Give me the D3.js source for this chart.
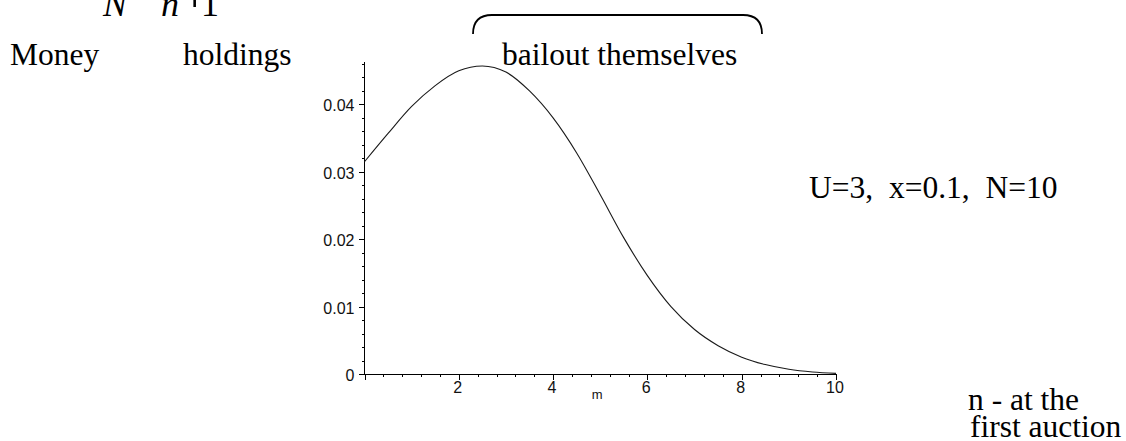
<!DOCTYPE html>
<html>
<head>
<meta charset="utf-8">
<script src="https://cdn.jsdelivr.net/npm/d3@7"></script>
<style>
  html, body { margin: 0; padding: 0; background: #fff; }
  svg { display: block; }
  .serif { font-family: "Liberation Serif", "Times New Roman", serif; fill: #000; white-space: pre; }
  .tick text { font-family: "Liberation Sans", Arial, sans-serif; }
</style>
</head>
<body>
<svg id="chart" width="1126" height="441"></svg>
<script>
// Money holdings m versus the value plotted for U=3, x=0.1, N=10
const mValues = [0, 0.5, 1, 1.5, 2, 2.5, 3, 3.5, 4, 4.5, 5, 5.5, 6, 6.5, 7, 7.5, 8, 8.5, 9, 9.5, 10];
const yValues = [0.0315, 0.0357, 0.0397, 0.0428, 0.0450, 0.0457, 0.0448, 0.0420, 0.0380, 0.0328,
                 0.0266, 0.0202, 0.0146, 0.0100, 0.0066, 0.0042, 0.0025, 0.0014, 0.0007, 0.0003, 0.0001];

const xMajorTicks = [0, 2, 4, 6, 8, 10];
const xTickLabels = ["", "2", "4", "6", "8", "10"];
const xMinorTicks = [0.4, 0.8, 1.2, 1.6, 2.4, 2.8, 3.2, 3.6, 4.4, 4.8, 5.2, 5.6, 6.4, 6.8, 7.2, 7.6, 8.4, 8.8, 9.2, 9.6];
const yMajorTicks = [0, 0.01, 0.02, 0.03, 0.04];
const yTickLabels = ["0", "0.01", "0.02", "0.03", "0.04"];
const yMinorTicks = [0.002, 0.004, 0.006, 0.008, 0.012, 0.014, 0.016, 0.018, 0.022, 0.024, 0.026, 0.028,
                     0.032, 0.034, 0.036, 0.038, 0.042, 0.044, 0.046];

const svg = d3.select("#chart");

const x = d3.scaleLinear().domain([0, 10]).range([364.5, 836]);
const y = d3.scaleLinear().domain([0, 0.0463]).range([374, 62]);

// x axis: minor ticks first, then major ticks with labels
const gx = svg.append("g").attr("transform", `translate(0,${y(0)})`);
gx.call(d3.axisBottom(x).tickValues(xMinorTicks).tickSize(3).tickSizeOuter(0).tickFormat(""));
const gxMaj = svg.append("g").attr("transform", `translate(0,${y(0)})`)
  .call(d3.axisBottom(x).tickValues(xMajorTicks).tickSize(6).tickSizeOuter(0)
    .tickFormat((d, i) => xTickLabels[i]).tickPadding(2));
gxMaj.select(".domain").remove();
gxMaj.selectAll(".tick text").attr("dx", "-0.1em");

// y axis
const gy = svg.append("g").attr("transform", `translate(${x(0)},0)`);
gy.call(d3.axisLeft(y).tickValues(yMinorTicks).tickSize(3).tickSizeOuter(0).tickFormat(""));
gy.select(".domain").attr("d", `M0,${y(0)}V${y.range()[1]}`);
const gyMaj = svg.append("g").attr("transform", `translate(${x(0)},0)`)
  .call(d3.axisLeft(y).tickValues(yMajorTicks).tickSize(6).tickSizeOuter(0)
    .tickFormat((d, i) => yTickLabels[i]).tickPadding(4));
gyMaj.select(".domain").remove();

svg.selectAll(".domain, .tick line").attr("stroke", "#000").attr("stroke-width", 1)
  .attr("shape-rendering", "crispEdges");
svg.selectAll(".tick text").attr("font-size", 16).attr("fill", "#111");
gyMaj.selectAll(".tick text").attr("dy", "0.4em");

// axis variable label
svg.append("text")
  .attr("x", x(5) - 3).attr("y", 399)
  .attr("text-anchor", "middle")
  .attr("font-family", "Liberation Sans, Arial, sans-serif")
  .attr("font-size", 13).attr("fill", "#111")
  .text("m");

// curve
const line = d3.line()
  .x((d, i) => x(mValues[i]))
  .y(d => y(d))
  .curve(d3.curveMonotoneX);
svg.append("path")
  .datum(yValues)
  .attr("fill", "none")
  .attr("stroke", "#1a1a1a")
  .attr("stroke-width", 1.1)
  .attr("d", line);

// denominator of the formula at the top edge
const fs = 31.5;
const eq = svg.append("text").attr("class", "serif").attr("y", 16).attr("font-size", 36);
eq.append("tspan").attr("x", 103).attr("font-style", "italic").text("N");
eq.append("tspan").attr("x", 161).attr("font-style", "italic").text("n");
eq.append("tspan").attr("x", 180).attr("y", 12).attr("font-size", 52).text("+");
eq.append("tspan").attr("x", 201).attr("y", 16).text("1");

svg.append("text").attr("class", "serif").attr("x", 10).attr("y", 65).attr("font-size", fs).text("Money");
svg.append("text").attr("class", "serif").attr("x", 183).attr("y", 65).attr("font-size", fs).text("holdings");
svg.append("text").attr("class", "serif").attr("x", 502).attr("y", 65).attr("font-size", fs).text("bailout themselves");

// brace over the label
svg.append("path")
  .attr("d", "M473,34 Q473,15 492,15 L743,15 Q762,15 762,34")
  .attr("fill", "none").attr("stroke", "#000").attr("stroke-width", 1.8);

svg.append("text").attr("class", "serif").attr("x", 809).attr("y", 198).attr("font-size", fs)
  .text("U=3,  x=0.1,  N=10");

const note = svg.append("text").attr("class", "serif").attr("font-size", fs);
note.append("tspan").attr("x", 968).attr("y", 410).text("n - at the");
note.append("tspan").attr("x", 970).attr("y", 437).text("first auction");
</script>
</body>
</html>
